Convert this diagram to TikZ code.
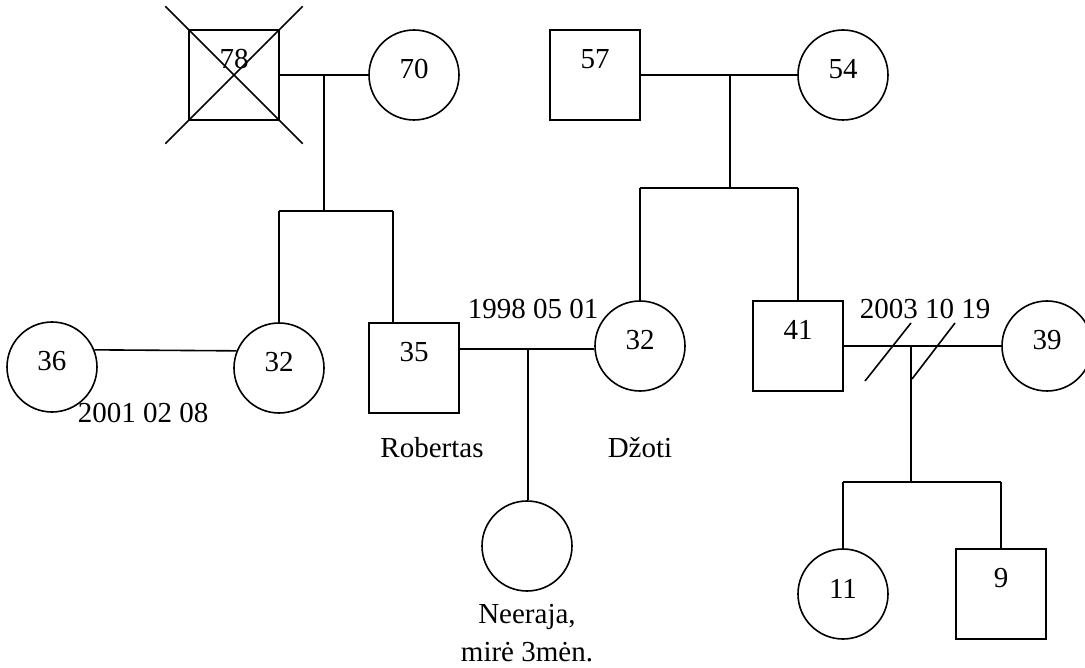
\documentclass[tikz,border=0pt]{standalone}
\usepackage{fontspec}
\setmainfont{Liberation Serif}
\usetikzlibrary{calc}

\tikzset{
  person/.style={draw, line width=1.6pt, minimum size=90pt, inner sep=0pt},
  male/.style={person, rectangle, label={[yshift=16pt]center:#1}},
  female/.style={person, circle, label={[yshift=5.5pt]center:#1}},
  link/.style={line width=1.6pt},
  note/.style={anchor=base, inner sep=0pt, align=center},
}

\begin{document}
\fontsize{29}{38}\selectfont
\begin{tikzpicture}[x=1pt, y=-1pt]
  \useasboundingbox (0,0) rectangle (1085,668);

  % first generation
  \node[male=78]   (p78) at (234,75)  {};
  \node[female=70] (p70) at (414,75)  {};
  \node[male=57]   (p57) at (595,75)  {};
  \node[female=54] (p54) at (843,75)  {};

  % second generation
  \node[female=36] (p36)  at (52,367)   {};
  \node[female=32] (p32a) at (279,368)  {};
  \node[male=35]   (p35)  at (414,368)  {};
  \node[female=32] (p32b) at (640,346)  {};
  \node[male=41]   (p41)  at (798,346)  {};
  \node[female=39] (p39)  at (1047,346) {};

  % third generation
  \node[female={}] (pN)  at (527,546) {};
  \node[female=11] (p11) at (843,594) {};
  \node[male=9]    (p9)  at (1001,594) {};

  % deceased mark
  \draw[link] ($(p78.north west)!-0.25!(p78.south east)$) -- ($(p78.south east)!-0.25!(p78.north west)$);
  \draw[link] ($(p78.north east)!-0.25!(p78.south west)$) -- ($(p78.south west)!-0.25!(p78.north east)$);

  % family of 78 and 70
  \draw[link] (p78.east) -- (p70.west);
  \coordinate (m1) at (324,75);
  \coordinate (b1l) at (279,211);
  \coordinate (b1r) at (393,211);
  \draw[link] (m1) -- (m1 |- b1l);
  \draw[link] (b1l) -- (b1r);
  \draw[link] (b1l) -- (p32a.north);
  \draw[link] (b1r) -- (b1r |- p35.north);

  % family of 57 and 54
  \draw[link] (p57.east) -- (p54.west);
  \coordinate (m2) at (730,75);
  \coordinate (b2l) at (640,188);
  \coordinate (b2r) at (798,188);
  \draw[link] (m2) -- (m2 |- b2l);
  \draw[link] (b2l) -- (b2r);
  \draw[link] (b2l) -- (p32b.north);
  \draw[link] (b2r) -- (p41.north);

  % 36 and 32
  \draw[link] (p36.22) -- (p32a.158);

  % 35 and 32 with their daughter
  \coordinate (w1) at (459,349);
  \draw[link] (w1) -- (w1 -| p32b.west);
  \coordinate (m3) at (528,349);
  \draw[link] (m3) -- (m3 |- pN.north);

  % 41 and 39, divorced, with their children
  \draw[link] (p41.east) -- (p39.west);
  \coordinate (m4) at (911,346);
  \coordinate (b4l) at (843,482);
  \coordinate (b4r) at (1001,482);
  \draw[link] (m4) -- (m4 |- b4l);
  \draw[link] (b4l) -- (b4r);
  \draw[link] (b4l) -- (p11.north);
  \draw[link] (b4r) -- (p9.north);
  \coordinate (d1a) at (865,381);
  \coordinate (d1b) at (911,323);
  \coordinate (d2a) at (912,379);
  \coordinate (d2b) at (955,323);
  \draw[link] (d1a) -- (d1b);
  \draw[link] (d2a) -- (d2b);

  % dates and names
  \node[note] (t1) at (143,422) {2001 02 08};
  \node[note] (t2) at (533,319) {1998 05 01};
  \node[note] (t3) at (925,319) {2003 10 19};
  \node[note] (t4) at (432,457) {Robertas};
  \node[note] (t5) at (640,457) {Džoti};
  \node[note] (t6) at (527,661) {Neeraja,\\mirė 3mėn.};
\end{tikzpicture}
\end{document}
